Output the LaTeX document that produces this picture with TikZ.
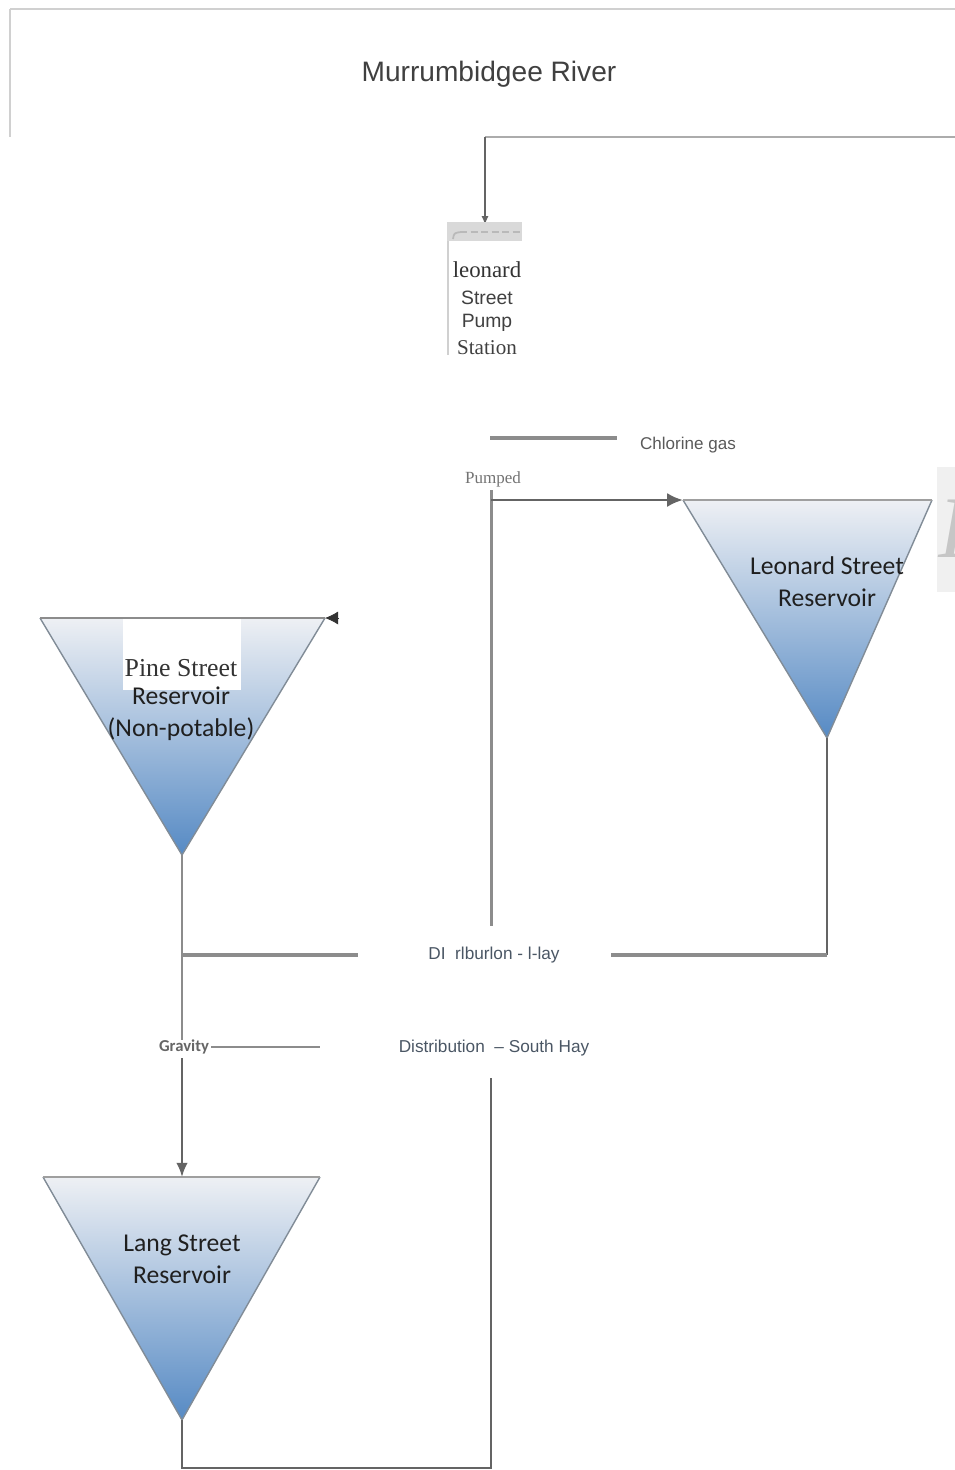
\documentclass[tikz,border=0pt]{standalone}
\usepackage{fontspec}
\setmainfont{Liberation Serif}
\newfontfamily\arialFont{Liberation Sans}
\newfontfamily\calibriFont{Carlito}
\definecolor{myNewColorA}{RGB}{140,140,140}
\definecolor{myNewColorB}{RGB}{100,100,100}
\definecolor{myNewColorC}{RGB}{208,208,208}
\definecolor{myNewColorD}{RGB}{238,240,244}
\definecolor{myNewColorE}{RGB}{86,138,196}
\definecolor{myNewColorF}{RGB}{74,86,100}
\usetikzlibrary{arrows.meta, positioning, calc}

\begin{document}
\begin{tikzpicture}[x=0.02cm, y=-0.02cm,
  pipe/.style={myNewColorA, line width=2.2pt},
  feed/.style={myNewColorB, line width=1.3pt},
  tank/.style={top color=myNewColorD, bottom color=myNewColorE},
  tankedge/.style={draw=myNewColorA!80!myNewColorE, line width=0.8pt},
  tanktop/.style={draw=gray!75, line width=1.2pt},
  tanklabel/.style={font=\calibriFont\fontsize{14.6}{18.2}\selectfont, text=black!88, align=center},
  distlabel/.style={font=\arialFont\fontsize{9.8}{12}\selectfont, text=myNewColorF}]
  \useasboundingbox (0,0) rectangle (955,1470);

  % river frame
  \draw[myNewColorC, line width=1.7pt] (10,9) -- (955,9);
  \draw[myNewColorC, line width=1.1pt] (10,9) -- (10,137);
  \node[font=\arialFont\fontsize{16}{19}\selectfont, text=black!75] (river) at (489,74)
    {Murrumbidgee River};

  \coordinate (riverOut) at (955,137);
  \coordinate (riverDrop) at (485,137);
  \coordinate (pumpIn) at (485,225);
  \draw[gray!65, line width=1.1pt] (riverOut) -- (riverDrop);
  \draw[feed, line width=1.6pt, -{Latex[length=5pt,width=4pt]}] (riverDrop) -- (pumpIn);

  % pump station
  \fill[gray!30] (447,222) rectangle (522,241);
  \draw[gray!55, line width=1pt, dash pattern=on 4pt off 2pt] (460,232) -- (522,232);
  \draw[gray!55, line width=1pt] (453,239) .. controls (454,233) .. (461,232);
  \draw[myNewColorC, line width=1.1pt] (448,241) -- (448,355);
  \node[font=\fontsize{13}{15}\selectfont, text=black!80] (pumpA) at (487,270) {leonard};
  \node[font=\arialFont\fontsize{11}{13}\selectfont, text=black!75] (pumpB) at (487,298) {Street};
  \node[font=\arialFont\fontsize{11}{13}\selectfont, text=black!75] (pumpC) at (487,323) {Pump};
  \node[font=\fontsize{12}{14}\selectfont, text=black!75] (pumpD) at (487,348) {Station};

  % chlorine dosing
  \coordinate (clA) at (490,438);
  \coordinate (clB) at (617,438);
  \draw[pipe] (clA) -- (clB);
  \node[font=\arialFont\fontsize{9.7}{12}\selectfont, text=black!65] (chlorine) at (688,445)
    {Chlorine gas};
  \node[font=\fontsize{9.7}{11}\selectfont, text=black!55] (pumped) at (493,479) {Pumped};

  \coordinate (pumpedTop) at (491,490);
  \coordinate (pumpedKnee) at (491,500);
  \coordinate (hayTop) at (491,926);
  \draw[myNewColorA, line width=1.7pt] (pumpedTop) -- (hayTop);

  % Leonard Street Reservoir
  \coordinate (leoL) at (683,500);
  \coordinate (leoR) at (932,500);
  \coordinate (leoTip) at (827,738);
  \shade[tank] (leoL) -- (leoR) -- (leoTip) -- cycle;
  \draw[tankedge] (leoL) -- (leoTip) -- (leoR);
  \draw[tanktop] (leoL) -- (leoR);
  \draw[feed, line width=1.7pt, -{Latex[length=9pt,width=8pt]}] (pumpedKnee) -- (leoL);
  \node[tanklabel] (leoName) at (827,582) {Leonard Street\\Reservoir};

  \fill[gray!12] (937,467) rectangle (960,592);
  \node[font=\fontsize{50}{50}\selectfont\itshape, text=gray!45, inner sep=0pt] (cutI) at (953,529) {I};

  \coordinate (leoDrop) at (827,955);
  \coordinate (hayR) at (611,955);
  \draw[feed] (leoTip) -- (leoDrop);
  \draw[pipe] (leoDrop) -- (hayR);
  \node[distlabel] (hayLabel) at (494,955) {DI\ \ rlburlon - l-lay};

  % Pine Street Reservoir
  \coordinate (pineL) at (40,618);
  \coordinate (pineR) at (325,618);
  \coordinate (pineTip) at (182,855);
  \coordinate (pineIn) at (339,618);
  \shade[tank] (pineL) -- (pineR) -- (pineTip) -- cycle;
  \draw[tankedge] (pineL) -- (pineTip) -- (pineR);
  \fill[white] (123,619) rectangle (241,690);
  \draw[tanktop, draw=gray!90] (pineL) -- (pineR);
  \draw[black!80, line width=0.4pt, -{Latex[length=7.5pt,width=7.5pt]}] (pineIn) -- (pineR);
  \node[font=\fontsize{14.7}{17}\selectfont, text=black!80] (pineA) at (181,668) {Pine Street};
  \node[tanklabel] (pineB) at (181,714) {Reservoir\\(Non-potable)};

  \coordinate (hayJoin) at (182,955);
  \coordinate (hayL) at (358,955);
  \coordinate (gravTop) at (182,1040);
  \draw[myNewColorA, line width=1.7pt] (pineTip) -- (gravTop);
  \draw[pipe] (hayJoin) -- (hayL);

  % gravity feed
  \node[font=\calibriFont\bfseries\fontsize{9.5}{11}\selectfont, text=black!60, inner sep=1pt]
    (gravity) at (184,1047) {Gravity};
  \coordinate (southL) at (320,1047);
  \draw[myNewColorA, line width=1.1pt] (gravity) -- (southL);
  \node[distlabel] (southLabel) at (494,1048) {Distribution\ \ – South Hay};

  % Lang Street Reservoir
  \coordinate (langL) at (43,1177);
  \coordinate (langR) at (320,1177);
  \coordinate (langIn) at (182,1177);
  \coordinate (langTip) at (182,1420);
  \coordinate (gravBot) at (182,1058);
  \shade[tank] (langL) -- (langR) -- (langTip) -- cycle;
  \draw[tankedge] (langL) -- (langTip) -- (langR);
  \draw[tanktop] (langL) -- (langR);
  \draw[feed, -{Latex[length=8pt,width=6.5pt]}] (gravBot) -- (langIn);
  \node[tanklabel] (langName) at (182,1259) {Lang Street\\Reservoir};

  \coordinate (langDrop) at (182,1468);
  \coordinate (southRet) at (491,1468);
  \coordinate (southBot) at (491,1078);
  \draw[feed] (langTip) -- (langDrop) -- (southRet) -- (southBot);
\end{tikzpicture}
\end{document}
